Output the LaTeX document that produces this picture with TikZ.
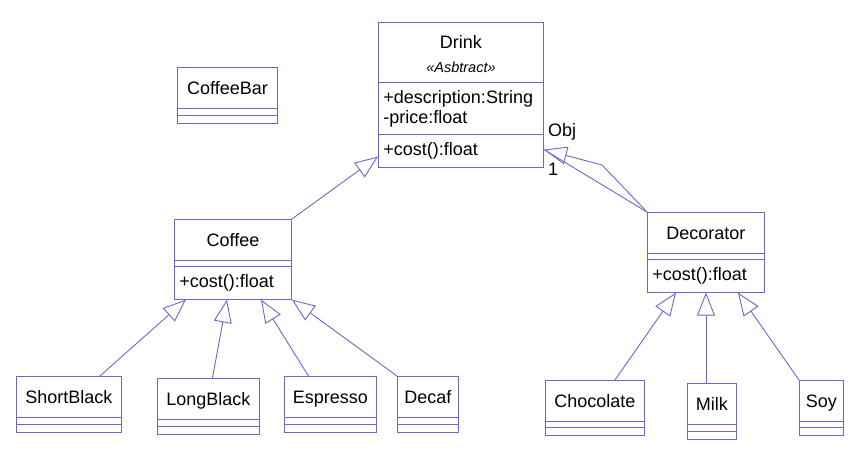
\documentclass[tikz,border=0pt]{standalone}
\usepackage{fontspec}
\setmainfont{Liberation Sans}
\usetikzlibrary{arrows.meta,positioning,shapes.multipart}

\definecolor{umlblue}{RGB}{105,105,205}
\setlength{\parindent}{0pt}
\newcommand{\umlfont}{\fontsize{18}{20}\selectfont}
\newcommand{\cname}[1]{\centering\rule[-13pt]{0pt}{40pt}#1\par}
\newcommand{\cmeth}[1]{\raggedright\rule[-11pt]{0pt}{32pt}#1\par}
\newcommand{\cgap}[1]{\rule{0pt}{#1}}

\begin{document}
\begin{tikzpicture}[
  x=1pt, y=-1pt,
  umlclass/.style={rectangle split, rectangle split parts=3, draw=umlblue,
    line width=0.9pt, inner xsep=5pt, inner ysep=0pt, anchor=north west,
    font=\umlfont},
  gen/.style={draw=umlblue, line width=0.9pt,
    -{Triangle[open, length=23pt, width=18pt]}},
  assoc/.style={draw=umlblue, line width=0.9pt},
  lbl/.style={font=\umlfont, inner sep=0pt}
]
\useasboundingbox (0,0) rectangle (858,452);

% top
\node[umlclass, text width=155pt] (drink) at (378,22) {
  \centering\rule{0pt}{26pt}Drink\\
  \rule[-9pt]{0pt}{32pt}{\fontsize{14.5}{16}\selectfont\itshape «Asbtract»}\par
  \nodepart{second}\raggedright\rule{0pt}{21pt}+description:String\\
  \rule[-10pt]{0pt}{10pt}-price:float\par
  \nodepart{third}\cmeth{+cost():float}
};

\node[umlclass, text width=90pt] (coffeebar) at (177,67) {
  \cname{CoffeeBar}
  \nodepart{second}\cgap{6pt}
  \nodepart{third}\cgap{7pt}
};

% middle
\node[umlclass, text width=107pt] (coffee) at (174,219) {
  \cname{Coffee}
  \nodepart{second}\cgap{5pt}
  \nodepart{third}\cmeth{+cost():float}
};

\node[umlclass, text width=107pt] (decorator) at (647,212) {
  \cname{Decorator}
  \nodepart{second}\cgap{5pt}
  \nodepart{third}\cmeth{+cost():float}
};

% bottom
\node[umlclass, text width=95pt] (shortblack) at (16,376) {
  \cname{ShortBlack}
  \nodepart{second}\cgap{6pt}
  \nodepart{third}\cgap{7pt}
};
\node[umlclass, text width=92pt] (longblack) at (157,378) {
  \cname{LongBlack}
  \nodepart{second}\cgap{6pt}
  \nodepart{third}\cgap{7pt}
};
\node[umlclass, text width=82pt] (espresso) at (284,376) {
  \cname{Espresso}
  \nodepart{second}\cgap{6pt}
  \nodepart{third}\cgap{7pt}
};
\node[umlclass, text width=51pt] (decaf) at (397,376) {
  \cname{Decaf}
  \nodepart{second}\cgap{6pt}
  \nodepart{third}\cgap{7pt}
};
\node[umlclass, text width=89pt] (chocolate) at (545,380) {
  \cname{Chocolate}
  \nodepart{second}\cgap{5pt}
  \nodepart{third}\cgap{7pt}
};
\node[umlclass, text width=39pt] (milk) at (687,383) {
  \cname{Milk}
  \nodepart{second}\cgap{6pt}
  \nodepart{third}\cgap{7pt}
};
\node[umlclass, text width=34pt] (soy) at (799,380) {
  \cname{Soy}
  \nodepart{second}\cgap{5pt}
  \nodepart{third}\cgap{7pt}
};

% connectors
\draw[gen] (coffee.north east) -- ([yshift=11pt]drink.south west);

\coordinate (objtip) at ([yshift=18pt]drink.south east);
\coordinate (bend) at (602,165);
\draw[gen] (decorator.north west) -- (bend) -- (objtip);
\draw[assoc] (decorator.north west) -- (objtip);
\node[lbl, above right=9pt and 4pt of objtip] (objlbl) {Obj};
\node[lbl, below right=13pt and 4pt of objtip] (multlbl) {1};

\draw[gen] ([xshift=31pt]shortblack.north) -- ([xshift=-47pt]coffee.south);
\draw[gen] ([xshift=4pt]longblack.north) -- ([xshift=-6pt]coffee.south);
\draw[gen] ([xshift=-22pt]espresso.north) -- ([xshift=28pt]coffee.south);
\draw[gen] (decaf.north west) -- (coffee.south east);

\draw[gen] ([xshift=20pt]chocolate.north) -- ([xshift=-30pt]decorator.south);
\draw[gen] (decorator.south |- milk.north) -- (decorator.south);
\draw[gen] (soy.north west) -- ([xshift=32pt]decorator.south);

\end{tikzpicture}
\end{document}
